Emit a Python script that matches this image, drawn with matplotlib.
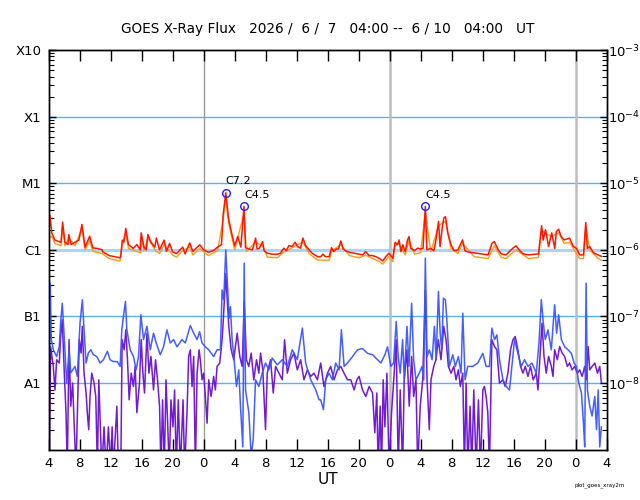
import numpy as np
import matplotlib
matplotlib.use("Agg")
import matplotlib.pyplot as plt
from matplotlib.ticker import LogLocator, NullFormatter, FixedLocator

# hours since 2026-06-07 04:00 UT
# long channel (1-8 A), units of 1e-6 W/m2
red_t = [0.0, 0.17, 0.4, 0.8, 1.6, 1.8, 2.1, 2.5, 2.6, 2.9, 3.4, 3.9, 4.3, 4.7, 5.3, 5.7,
         6.3, 6.9, 7.0, 7.8, 8.5, 9.2, 9.3, 9.5, 9.7, 9.95, 10.3, 10.9, 11.4, 11.8, 11.94,
         12.3, 12.6, 12.8, 13.2, 13.7, 13.9, 14.3, 14.9, 15.2, 15.6, 16.0, 16.5, 17.3, 17.6,
         18.2, 18.6, 19.5, 20.0, 20.6, 21.3, 21.8, 22.3, 22.5, 22.85, 23.2, 23.6, 24.0, 24.4,
         24.8, 25.2, 25.4, 25.8, 26.3, 26.7, 26.9, 27.2, 27.6, 27.8, 28.2, 28.85, 29.5, 29.9,
         30.35, 30.65, 31.0, 31.4, 31.8, 32.1, 32.5, 32.8, 33.15, 33.6, 34.0, 34.7, 35.1,
         35.4, 35.7, 36.2, 36.5, 36.8, 37.1, 37.4, 37.7, 38.0, 38.3, 38.8, 39.4, 40.05, 40.5,
         40.9, 41.35, 41.8, 42.2, 42.6, 43.1, 43.5, 43.9, 44.4, 44.7, 45.0, 45.2, 45.45,
         45.7, 46.0, 46.3, 46.5, 46.7, 47.2, 47.6, 48.0, 48.3, 48.6,
         48.8, 49.3, 49.7, 49.97, 50.3, 50.5, 50.7, 50.97, 51.2, 51.5, 51.9, 52.3, 52.8, 53.4,
         53.7, 54.1, 54.9, 55.8, 56.7, 57.2, 57.5, 58.0, 58.4, 59.0, 59.9, 60.3, 60.7, 61.2,
         61.9, 62.7, 63.2, 63.6, 63.8, 64.1, 64.5, 64.9, 65.3, 65.5, 65.8, 66.1, 66.5, 67.2,
         67.7, 68.1, 68.5, 69.0, 69.3, 69.5, 69.8, 70.3, 70.9, 71.3]
red_v = [1.8, 3.3, 1.8, 1.4, 1.3, 2.6, 1.3, 1.2, 1.7, 1.2, 1.3, 1.4, 2.4, 1.1, 1.6, 1.07,
         1.05, 1.0, 0.93, 0.82, 0.79, 0.76, 0.79, 1.4, 1.3, 2.1, 1.2, 1.05, 1.2, 1.0, 1.8,
         1.1, 1.0, 1.7, 1.3, 1.1, 1.5, 1.0, 1.4, 0.95, 1.25, 0.93, 0.88, 1.1, 0.87,
         1.27, 0.95, 1.19, 1.0, 0.92, 0.98, 1.1, 1.2, 3.2, 7.2, 3.0, 1.8, 1.15, 1.58,
         1.1, 4.5, 1.08, 1.03, 1.0, 1.5, 1.03, 1.06, 1.33, 0.97, 0.89, 0.86, 0.86, 0.89,
         1.06, 0.97, 1.16, 1.12, 1.3, 1.12, 1.06, 1.5, 1.16, 1.0, 0.89, 0.79, 0.79,
         0.86, 0.79, 0.79, 1.08, 0.94, 1.03, 1.03, 1.36, 1.03, 0.97, 0.92, 0.89, 0.86, 0.84,
         0.94, 0.82, 0.82, 0.79, 0.75, 0.68, 0.79, 0.89, 0.75, 1.3, 1.19, 1.41, 0.94,
         1.19, 0.94, 1.41, 1.58, 1.06, 0.97, 1.06, 1.03, 1.05, 4.5,
         1.0, 1.05, 0.97, 1.41, 2.66, 1.12, 1.8, 3.0, 3.15, 1.8, 1.2, 0.97, 1.0, 1.41,
         0.97, 0.93, 0.9, 0.87, 0.84, 1.26, 1.33, 1.0, 0.87, 0.84, 1.06, 1.15, 1.0, 0.87,
         0.84, 0.86, 0.87, 2.3, 1.4, 2.0, 1.12, 1.8, 1.05, 1.88, 2.04, 1.6, 1.41, 1.5,
         1.12, 1.05, 0.84, 0.84, 2.57, 1.05, 1.12, 0.9, 0.84, 0.8]

# long channel, second satellite, units of 1e-6 W/m2
orange_t = [0.0, 0.4, 0.8, 1.6, 1.8, 2.1, 2.6, 3.4, 4.3, 4.7, 5.3, 5.7, 6.9, 7.8, 9.2, 9.5,
            9.95, 10.3, 11.9, 12.0, 12.3, 12.8, 13.8, 14.3, 14.9, 16.0, 16.5, 17.3, 18.2,
            18.6, 19.5, 20.6, 21.8, 22.5, 22.85, 23.2, 24.0, 25.2, 25.5, 26.7, 27.6, 28.2,
            29.5, 30.35, 31.0, 31.8, 32.8, 33.6, 34.7, 36.2, 36.5, 37.7, 38.8, 40.05, 40.9,
            42.6, 43.1, 43.9, 44.4, 44.7, 45.2, 46.0, 46.5, 47.2, 48.0,
            48.6, 49.3, 50.3, 51.2, 51.9, 52.8, 53.4, 54.9, 56.7, 57.5, 58.4, 59.0, 60.3,
            61.9, 63.2, 63.6, 64.1, 64.9, 65.8, 66.5, 67.2, 68.5, 69.0, 69.3, 69.8, 70.9, 71.3]
orange_v = [1.5, 1.6, 1.25, 1.15, 2.2, 1.15, 1.5, 1.15, 2.1, 1.0, 1.4, 0.95, 0.88, 0.74, 0.68, 1.2,
            1.8, 1.05, 0.9, 1.5, 0.97, 1.5, 0.97, 0.88, 1.2, 0.83, 0.78, 0.97, 1.1,
            0.84, 1.05, 0.82, 0.97, 2.8, 6.0, 2.6, 1.0, 3.5, 0.95, 1.3, 1.15, 0.78,
            0.76, 0.93, 1.0, 1.15, 1.3, 0.88, 0.7, 0.7, 0.95, 1.2, 0.82, 0.76, 0.83,
            0.67, 0.61, 0.79, 0.67, 1.15, 1.25, 0.84, 1.4, 0.86, 0.91,
            3.8, 0.93, 2.3, 2.7, 1.05, 0.88, 1.25, 0.79, 0.74, 1.15, 0.77, 0.74, 1.0,
            0.74, 0.77, 2.0, 1.75, 1.6, 1.8, 1.25, 1.3, 0.74, 0.74, 2.2, 1.0, 0.74, 0.7]

# short channel (0.5-4 A), units of 1e-8 W/m2
blue_t = [0.0, 0.08, 0.21, 0.34, 0.60, 1.03, 1.37, 1.55, 1.76, 1.98, 2.33, 2.63, 2.85, 3.40,
          3.70, 4.05, 4.35, 4.57, 4.83, 5.13, 5.44, 5.77, 6.21, 6.64, 7.07, 7.58, 7.93, 8.36,
          8.87, 9.22, 9.44, 9.65, 9.91, 10.09, 10.52, 10.95, 11.29, 11.59, 11.90, 12.24,
          12.68, 13.11, 13.53, 13.88, 14.40, 14.82, 15.26, 15.69, 16.12, 16.56, 17.20, 17.63,
          18.28, 18.71, 19.15, 19.48, 19.79, 20.22, 20.65, 21.29, 21.73, 22.16, 22.38, 22.59,
          22.85, 23.11, 23.29, 23.45, 23.67, 23.89, 24.23, 24.53, 24.75, 25.05, 25.23, 25.40,
          25.83, 26.13, 26.39, 26.69, 27.12, 27.56, 27.98, 28.41, 28.85, 29.50, 30.14, 30.79,
          31.43, 32.08, 32.73, 33.16, 33.81, 34.46, 34.89, 35.10, 35.45, 35.75, 36.17, 36.61,
          37.04, 37.47, 37.77, 38.12, 38.55, 39.20, 39.85, 40.49, 41.14, 41.79, 42.43, 42.86,
          43.38, 43.72, 44.15, 44.50, 44.84, 45.10, 45.36, 45.67, 45.88, 46.23, 46.49, 46.83,
          47.09, 47.39, 47.82, 48.17, 48.39, 48.60, 48.82, 49.12, 49.47, 49.77, 49.99, 50.29,
          50.51, 50.72, 50.93, 51.19, 51.40, 51.70, 52.14, 52.47, 52.86, 53.21, 53.43, 53.73,
          54.07, 54.72, 55.37, 56.01, 56.44, 56.87, 57.18, 57.52, 57.83, 58.17, 58.61, 59.03,
          59.46, 59.77, 60.11, 60.54, 60.97, 61.40, 61.84, 62.36, 62.91, 63.26, 63.56, 63.82,
          64.07, 64.42, 64.85, 65.28, 65.54, 65.80, 66.15, 66.58, 67.01, 67.44, 67.79, 68.09,
          68.39, 68.74, 69.00, 69.16, 69.34, 69.51, 69.81, 70.11, 70.46, 70.68, 70.90, 71.10,
          71.31]
blue_v = [1.58, 2.0, 31.6, 4.5, 3.16, 2.5, 3.5, 8.0, 15.8, 5.6, 1.0, 3.16, 1.42, 1.78,
          1.26, 8.0, 17.8, 6.3, 2.0, 2.84, 3.16, 2.66, 2.5, 2.0, 2.24, 3.0, 2.24, 2.1,
          2.1, 1.78, 6.3, 10.0, 16.8, 6.3, 3.16, 2.5, 1.58, 2.5, 10.6, 4.5,
          7.1, 3.16, 5.6, 4.0, 2.66, 3.5, 6.3, 4.0, 4.5, 3.5, 4.5, 4.0,
          7.3, 5.6, 4.5, 5.9, 4.0, 3.5, 3.16, 2.5, 3.16, 3.16, 25.0, 17.8,
          100, 25.0, 9.4, 14.0, 4.5, 2.5, 0.89, 1.58, 0.45, 0.11, 63, 0.79,
          0.36, 0.08, 0.14, 1.12, 0.89, 1.41, 2.0, 1.58, 2.37, 1.88, 2.24, 1.78,
          3.16, 2.24, 6.7, 2.0, 1.12, 0.79, 0.56, 0.56, 0.4, 1.12, 1.41, 1.12,
          2.0, 1.58, 6.3, 1.78, 2.0, 2.5, 3.16, 3.3, 2.8, 2.66, 2.24, 2.0,
          2.66, 3.5, 1.78, 2.0, 8.4, 2.5, 1.41, 4.5, 1.12, 7.1, 1.78, 15.8,
          2.24, 1.12, 1.41, 1.78, 1.12, 75, 2.5, 3.16, 2.24, 7.1, 2.24, 23.7,
          5.6, 3.16, 18.8, 17.8, 8.0, 1.78, 2.66, 1.78, 2.5, 1.41, 11.2, 1.12,
          1.78, 1.78, 2.0, 2.8, 1.78, 1.78, 6.7, 4.5, 5.3, 2.24, 1.12, 0.89,
          0.79, 1.78, 4.5, 2.8, 1.78, 2.24, 1.78, 2.0, 1.41, 4.0, 17.8, 8.0,
          4.5, 6.3, 3.16, 15.0, 5.6, 10.6, 4.5, 3.5, 3.16, 2.8, 2.0, 1.78,
          1.0, 0.71, 0.25, 0.11, 31.6, 0.79, 0.45, 0.32, 0.63, 0.2, 0.79, 0.11,
          0.22]

# short channel, second satellite, units of 1e-8 W/m2 (0.05 = dropout below axis)
purple_t = [0.0, 0.08, 0.26, 0.60, 0.82, 1.03, 1.37, 1.55, 1.76, 2.02, 2.24, 2.41, 2.63, 2.85,
            3.10, 3.27, 3.53, 3.75, 3.96, 4.18, 4.35, 4.57, 4.83, 4.99, 5.17, 5.34, 5.56,
            5.86, 6.08, 6.29, 6.47, 6.64, 6.86, 7.15, 7.41, 7.71, 8.02, 8.19, 8.36, 8.80,
            9.00, 9.31, 9.48, 9.74, 9.96, 10.17, 10.39, 10.65, 10.94, 11.16, 11.38, 11.72,
            11.94, 12.16, 12.37, 12.68, 12.94, 13.20, 13.53, 13.79, 14.05, 14.31, 14.49,
            14.70, 14.92, 15.14, 15.34, 15.56, 15.78, 16.04, 16.25, 16.47, 16.73, 16.99,
            17.34, 17.54, 17.85, 18.06, 18.28, 18.50, 18.71, 18.93, 19.15, 19.41, 19.57,
            19.79, 20.00, 20.22, 20.44, 20.65, 20.96, 21.29, 21.51, 21.73, 22.07, 22.38,
            22.51, 22.85, 23.24, 23.55, 23.88, 24.32, 24.66, 24.97, 25.23, 25.52, 25.82,
            26.13, 26.47, 26.82, 27.12, 27.34, 27.63, 27.98, 28.20, 28.63, 28.98, 29.28,
            29.71, 30.14, 30.44, 30.79, 31.22, 31.64, 32.08, 32.51, 32.94, 33.38, 33.81,
            34.23, 34.67, 35.10, 35.52, 35.97, 36.39, 36.82, 37.26, 37.69, 38.11, 38.55,
            38.98, 39.41, 39.76, 40.05, 40.49, 40.92, 41.35, 41.79, 42.08, 42.34, 42.51,
            42.77, 42.95, 43.16, 43.38, 43.64, 43.93, 44.24, 44.58, 44.84, 45.10, 45.36,
            45.67, 45.87, 46.22, 46.52, 46.83, 47.09, 47.39, 47.61, 47.94, 48.26, 48.60,
            48.82, 49.11, 49.33, 49.68, 49.97, 50.27, 50.62, 50.97, 51.27, 51.57, 51.92,
            52.27, 52.56, 52.86, 53.12, 53.43, 53.64, 53.86, 54.08, 54.37, 54.59, 54.85,
            55.15, 55.45, 55.71, 56.02, 56.22, 56.44, 56.66, 56.87, 57.18, 57.52, 57.83,
            58.16, 58.60, 58.90, 59.25, 59.59, 59.90, 60.19, 60.54, 60.88, 61.19, 61.49,
            61.84, 62.17, 62.52, 62.91, 63.13, 63.39, 63.65, 63.91, 64.20, 64.50, 64.85,
            65.07, 65.28, 65.63, 65.93, 66.24, 66.57, 66.92, 67.22, 67.53, 67.87, 68.22,
            68.51, 68.83, 69.16, 69.38, 69.60, 69.81, 70.12, 70.46, 70.81, 71.10, 71.32]
purple_v = [1.58, 0.05, 3.5, 1.78, 0.79, 2.24, 2.0, 5.0, 8.9, 1.41, 0.36, 0.05, 4.5, 0.45,
            1.0, 0.28, 0.05, 0.56, 4.5, 2.82, 7.1, 1.41, 0.71, 0.36, 0.2, 0.63, 1.41,
            1.0, 0.63, 0.05, 1.12, 0.28, 0.05, 0.22, 0.05, 0.22, 0.05, 0.22, 0.05, 0.45,
            0.05, 0.05, 4.5, 3.16, 6.3, 2.24, 0.56, 1.41, 0.89, 1.78, 0.36, 1.0,
            4.5, 1.41, 0.71, 5.6, 1.41, 2.51, 0.79, 2.24, 1.12, 0.45, 0.05,
            0.56, 0.05, 1.12, 0.28, 0.05, 0.56, 0.22, 0.79, 0.05, 0.56, 0.05,
            0.56, 0.05, 0.36, 2.51, 3.16, 0.89, 2.51, 0.05, 1.41, 3.16, 2.24,
            1.12, 1.41, 0.63, 0.25, 1.12, 0.63, 1.26, 0.79, 1.78, 2.0, 4.5,
            7.9, 44, 7.1, 3.16, 2.24, 5.6, 2.51, 1.78, 16.8, 2.24, 1.78,
            2.82, 1.12, 2.24, 1.41, 2.82, 1.58, 0.2, 1.41, 2.24, 0.71, 1.78,
            1.41, 1.12, 4.47, 1.41, 2.24, 2.82, 1.58, 2.24, 1.12, 1.58, 1.26,
            1.41, 1.12, 2.0, 0.89, 1.41, 1.78, 1.12, 1.58, 1.78, 1.41, 1.12,
            1.12, 0.79, 1.12, 1.26, 0.79, 0.63, 0.89, 0.71, 0.18, 0.71, 0.05,
            0.45, 0.05, 1.12, 0.22, 1.41, 0.05, 0.36, 1.41, 4.47, 0.05, 0.79,
            0.05, 1.12, 3.16, 0.45, 2.51, 0.63, 1.12, 0.05, 0.45, 1.12, 25,
            1.12, 0.2, 1.12, 1.78, 2.24, 4.47, 2.24, 7.1, 4.47, 1.78, 1.41,
            1.78, 1.12, 1.58, 0.89, 1.41, 0.05, 1.0, 0.05, 0.45, 0.05, 0.79,
            0.05, 0.56, 0.05, 0.79, 0.89, 0.63, 0.36, 0.05, 4.47, 3.54, 3.16,
            1.0, 1.12, 0.89, 1.41, 3.16, 4.47, 5.0, 3.16, 1.78, 1.41, 1.78,
            1.26, 1.78, 1.12, 1.41, 0.79, 2.51, 7.9, 2.51, 1.41, 2.51, 1.78,
            1.26, 3.16, 2.24, 3.54, 2.82, 2.51, 1.78, 2.0, 1.58, 1.78, 1.41,
            1.58, 1.26, 1.78, 1.12, 3.54, 1.58, 1.78, 2.0, 1.41, 1.78, 1.0]

# flare peaks: time, flux (W/m2), label
flare_t = [22.85, 25.2, 48.6]
flare_v = [7.2e-6, 4.5e-6, 4.5e-6]
flare_lbl = ["C7.2", "C4.5", "C4.5"]

class_lvls = [1e-8, 1e-7, 1e-6, 1e-5, 1e-4, 1e-3]
class_lbls = ["A1", "B1", "C1", "M1", "X1", "X10"]
right_lbls = [r"$10^{-8}$", r"$10^{-7}$", r"$10^{-6}$", r"$10^{-5}$", r"$10^{-4}$", r"$10^{-3}$"]
day_breaks = [20, 44, 68]

fig = plt.figure(figsize=(6.4, 5.0), dpi=100)
ax = fig.add_axes([0.076, 0.1006, 0.872, 0.7994])

ax.set_yscale("log")
ax.set_xlim(0, 72)
ax.set_ylim(1e-9, 1e-3)

for lv in class_lvls[:-1]:
    if lv == 1e-6:
        ax.axhline(lv, color="#a8d4ff", lw=2.2, zorder=1)
    else:
        ax.axhline(lv, color="#5ab0ff", lw=1.0, zorder=1)
for i, d in enumerate(day_breaks):
    if i == 0:
        ax.axvline(d, color="#9a9a9a", lw=1.0, zorder=1)
    else:
        ax.axvline(d, color="#bdbdbd", lw=1.8, zorder=1)

ax.plot(orange_t, np.array(orange_v) * 1e-6, color="#ff9a1a", lw=1.0, zorder=2)
ax.plot(red_t, np.array(red_v) * 1e-6, color="#ff1500", lw=1.1, zorder=3)
ax.plot(purple_t, np.array(purple_v) * 1e-8, color="#6a0fd0", lw=1.1, alpha=0.95, zorder=2)
ax.plot(blue_t, np.array(blue_v) * 1e-8, color="#3a55ff", lw=1.1, alpha=0.95, zorder=3)

ax.plot(flare_t, flare_v, "o", ms=5.5, mfc="none", mec="#2020ff", mew=1.0, zorder=4)
for t, v, s in zip(flare_t, flare_v, flare_lbl):
    ax.annotate(s, (t, v), xytext=(0, 6), textcoords="offset points",
                ha="left", va="baseline", fontsize=8)

# x axis: every 4 hours, labels in UT hour
xt = np.arange(0, 73, 4)
ax.set_xticks(xt)
ax.set_xticklabels([str(int((h + 4) % 24)) for h in xt], fontsize=9.5)
ax.tick_params(axis="x", direction="in", length=8, width=1, top=True, pad=5)
ax.set_xlabel("UT", fontsize=11, labelpad=2)

ax.yaxis.set_major_locator(FixedLocator(class_lvls))
ax.set_yticklabels(class_lbls, fontsize=9.5)
ax.yaxis.set_minor_locator(LogLocator(base=10, subs=np.arange(2, 10), numticks=20))
ax.yaxis.set_minor_formatter(NullFormatter())
ax.tick_params(axis="y", which="major", direction="in", length=5, width=1, pad=5)
ax.tick_params(axis="y", which="minor", direction="in", length=3.5, width=0.8)

ax2 = ax.twinx()
ax2.set_yscale("log")
ax2.set_ylim(1e-9, 1e-3)
ax2.yaxis.set_major_locator(FixedLocator(class_lvls))
ax2.set_yticklabels(right_lbls, fontsize=9.5)
ax2.yaxis.set_minor_locator(LogLocator(base=10, subs=np.arange(2, 10), numticks=20))
ax2.yaxis.set_minor_formatter(NullFormatter())
ax2.tick_params(axis="y", which="major", direction="in", length=5, width=1, pad=1)
ax2.tick_params(axis="y", which="minor", direction="in", length=3.5, width=0.8)

for a in (ax, ax2):
    for sp in a.spines.values():
        sp.set_linewidth(1.0)

ax.set_title("GOES X-Ray Flux   2026 /  6 /  7   04:00 --  6 / 10   04:00   UT",
             fontsize=9.8, pad=12)
fig.text(0.898, 0.028, "plot_goes_xray2m", fontsize=4, ha="left")

fig.savefig("out.png", dpi=100)
